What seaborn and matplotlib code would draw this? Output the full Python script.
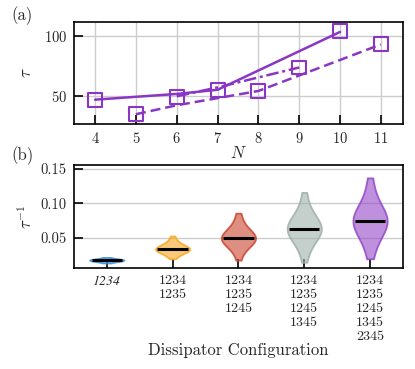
import numpy as np
import pandas as pd
import seaborn as sns
import matplotlib.pyplot as plt
from matplotlib.colors import to_rgba

# panel (a): tau vs N
N_pts = [4, 5, 6, 7, 8, 9, 10, 11]
tau_pts = [46.2, 34.5, 48.9, 54.7, 53.9, 73.7, 103.9, 93.3]

N_solid = [4, 6, 7, 10]
tau_solid = [46.7, 51.5, 55.0, 103.5]
N_dashed = [5, 6, 7, 8, 9, 10, 11]
tau_dashed = [34.5, 42.0, 48.0, 54.0, 67.0, 80.0, 93.0]
N_dashdot = [6, 7, 9]
tau_dashdot = [49.5, 57.0, 73.7]

# panel (b): inverse lifetimes per dissipator configuration
configs = ['1234', '1234\n1235', '1234\n1235\n1245',
           '1234\n1235\n1245\n1345', '1234\n1235\n1245\n1345\n2345']
inv_tau_1 = [0.014, 0.016, 0.017, 0.0175, 0.018, 0.018, 0.018, 0.0185, 0.019, 0.0195, 0.022]
inv_tau_2 = [0.020, 0.025, 0.028, 0.030, 0.031, 0.032, 0.033, 0.033, 0.034, 0.034, 0.034,
             0.035, 0.035, 0.036, 0.037, 0.038, 0.040, 0.043, 0.047, 0.053]
inv_tau_3 = [0.018, 0.030, 0.037, 0.041, 0.044, 0.046, 0.047, 0.048, 0.049, 0.049, 0.050,
             0.051, 0.052, 0.054, 0.056, 0.058, 0.062, 0.067, 0.075, 0.086]
inv_tau_4 = [0.015, 0.032, 0.042, 0.049, 0.053, 0.056, 0.058, 0.060, 0.062, 0.063, 0.064,
             0.065, 0.067, 0.069, 0.072, 0.075, 0.080, 0.087, 0.098, 0.116]
inv_tau_5 = [0.020, 0.036, 0.047, 0.055, 0.061, 0.065, 0.068, 0.071, 0.073, 0.074, 0.075,
             0.077, 0.079, 0.082, 0.085, 0.089, 0.095, 0.104, 0.118, 0.137]
violin_colors = ['#3a8fd6', '#f7a823', '#c9452f', '#9fb0ab', '#9447c9']

line_color = '#8a36c4'

sns.set_style('white')
plt.rcParams['font.family'] = 'serif'
plt.rcParams['font.serif'] = ['cmr10']
plt.rcParams['mathtext.fontset'] = 'cm'
plt.rcParams['axes.formatter.use_mathtext'] = True
plt.rcParams['axes.unicode_minus'] = False

fig = plt.figure(figsize=(4.15, 3.69), dpi=100)
ax1 = fig.add_axes([0.178, 0.663, 0.793, 0.278])
ax2 = fig.add_axes([0.178, 0.273, 0.793, 0.280])

for ax in (ax1, ax2):
    ax.grid(True, color='#cccccc', linewidth=1.0)
    ax.set_axisbelow(True)
    for s in ax.spines.values():
        s.set_linewidth(1.2)
        s.set_color('black')
    ax.tick_params(axis='both', which='both', direction='in', length=6.5, width=1.2,
                   labelsize=10.5, color='black', bottom=True, left=True, pad=5)

# --- (a)
sns.lineplot(x=N_solid, y=tau_solid, ax=ax1, color=line_color, linewidth=1.8)
sns.lineplot(x=N_dashed, y=tau_dashed, ax=ax1, color=line_color, linewidth=1.8, linestyle=(0, (4, 2)))
sns.lineplot(x=N_dashdot, y=tau_dashdot, ax=ax1, color=line_color, linewidth=1.8, linestyle=(0, (5, 1.5, 1.2, 1.5)))
sns.scatterplot(x=N_pts, y=tau_pts, ax=ax1, marker='s', s=100, facecolor='none',
                edgecolor=line_color, linewidth=1.5, zorder=5)
ax1.set_xlim(3.48, 11.54)
ax1.set_ylim(26, 112)
ax1.set_xticks(range(4, 12))
ax1.set_yticks([50, 100])
ax1.set_xlabel('$N$', fontsize=12, labelpad=-1)
ax1.set_ylabel(r'$\tau$', fontsize=12, labelpad=7)

# --- (b)
df = pd.DataFrame({
    'config': np.repeat(configs, [len(inv_tau_1), len(inv_tau_2), len(inv_tau_3), len(inv_tau_4), len(inv_tau_5)]),
    'inv_tau': inv_tau_1 + inv_tau_2 + inv_tau_3 + inv_tau_4 + inv_tau_5,
})
sns.violinplot(data=df, x='config', y='inv_tau', hue='config', palette=violin_colors,
               order=configs, hue_order=configs, legend=False, inner=None, cut=0,
               density_norm='width', width=0.52, bw_adjust=1.35, linewidth=1.3, ax=ax2)
for coll, c in zip(ax2.collections, violin_colors):
    coll.set_facecolor(to_rgba(c, 0.6))
    coll.set_edgecolor(to_rgba(c, 0.85))

meds = df.groupby('config', sort=False)['inv_tau'].median()
for i, cfg in enumerate(configs):
    ax2.hlines(meds[cfg], i - 0.23, i + 0.23, color='black', linewidth=2.2, zorder=6)

ax2.set_xlim(-0.5, 4.5)
ax2.set_ylim(0.0063, 0.1557)
ax2.set_yticks([0.05, 0.10, 0.15])
ax2.set_yticklabels(['0.05', '0.10', '0.15'])
ax2.set_xticks(range(len(configs)))
ax2.set_xticklabels(configs, fontsize=10, linespacing=1.2, va='top')
first = ax2.get_xticklabels()[0]
first.set_fontfamily('STIXGeneral')
first.set_fontstyle('italic')
ax2.set_xlabel('Dissipator Configuration', fontsize=12, labelpad=0)
ax2.set_ylabel(r'$\tau^{-1}$', fontsize=12, labelpad=4)

fig.text(0.028, 0.945, '(a)', fontsize=12)
fig.text(0.028, 0.567, '(b)', fontsize=12)

fig.savefig('out.png', dpi=100)
